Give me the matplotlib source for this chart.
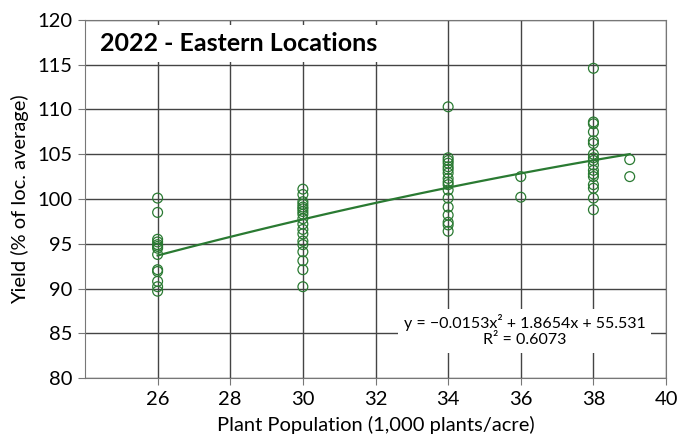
import matplotlib
matplotlib.use("Agg")
import matplotlib.pyplot as plt
import numpy as np

# ── Data ──────────────────────────────────────────────────────────────────────
pop_26 = [100.1, 98.5, 95.5, 95.2, 94.9, 94.7, 94.5, 93.8, 92.1, 91.9, 90.8, 90.2, 89.7]
pop_30 = [101.1, 100.5, 99.7, 99.4, 99.1, 98.9, 98.6, 98.3, 97.8, 97.2, 96.6,
          96.1, 95.3, 94.9, 94.1, 93.1, 92.1, 90.2]
pop_34 = [110.3, 104.6, 104.3, 104.0, 103.6, 103.3, 102.9, 102.3, 101.9, 101.6,
          101.0, 100.1, 99.1, 98.2, 97.4, 97.1, 96.4]
pop_36 = [102.5, 100.2]
pop_38 = [114.6, 108.6, 108.4, 107.5, 106.5, 106.2, 105.0, 104.6, 104.3, 103.8,
          103.2, 102.8, 102.5, 101.6, 101.2, 100.1, 98.8]
pop_39 = [104.4, 102.5]

groups = {26: pop_26, 30: pop_30, 34: pop_34, 36: pop_36, 38: pop_38, 39: pop_39}

# quadratic trendline as printed on the chart
coef = [-0.0153, 1.8654, 55.531]
r_squared = 0.6073
fit_range = (26, 39)

title = "2022 - Eastern Locations"
x_label = "Plant Population (1,000 plants/acre)"
y_label = "Yield (% of loc. average)"

GREEN = "#2a7a32"
FONT = "Lato"

# ── Plot ──────────────────────────────────────────────────────────────────────
plt.rcParams["font.family"] = [FONT, "DejaVu Sans"]

fig = plt.figure(figsize=(6.82, 4.34), dpi=100)
ax = fig.add_axes([0.1246, 0.129, 0.852, 0.825])

xs, ys = [], []
for x, vals in groups.items():
    xs += [x] * len(vals)
    ys += vals
ax.scatter(xs, ys, s=50, facecolors="none", edgecolors=GREEN, linewidths=0.9, zorder=3)

xf = np.linspace(*fit_range, 100)
ax.plot(xf, np.polyval(coef, xf), color=GREEN, linewidth=1.6, zorder=4)

ax.set_xlim(24, 40)
ax.set_ylim(80, 120)
ax.set_xticks(range(26, 41, 2))
ax.set_yticks(range(80, 121, 5))
ax.grid(True, color="#444444", linewidth=1.0)
ax.set_axisbelow(True)
for sp in ax.spines.values():
    sp.set_color("#777777")
ax.tick_params(labelsize=14.5, length=5, color="#777777", pad=4)

ax.set_xlabel(x_label, fontsize=14.5, labelpad=6)
ax.set_ylabel(y_label, fontsize=14.5, labelpad=6)

ax.text(0.025, 0.935, title, transform=ax.transAxes, fontsize=18, fontweight="bold",
        va="center", ha="left", zorder=5,
        bbox=dict(facecolor="white", edgecolor="none", pad=5))

eq = f"y = \u2212{abs(coef[0])}x\u00b2 + {coef[1]}x + {coef[2]}\nR\u00b2 = {r_squared}"
ax.text(0.757, 0.132, eq, transform=ax.transAxes, fontsize=11.5, ha="center",
        va="center", linespacing=1.2, zorder=5,
        bbox=dict(facecolor="white", edgecolor="none", pad=4))

fig.savefig("out.png", dpi=100)
